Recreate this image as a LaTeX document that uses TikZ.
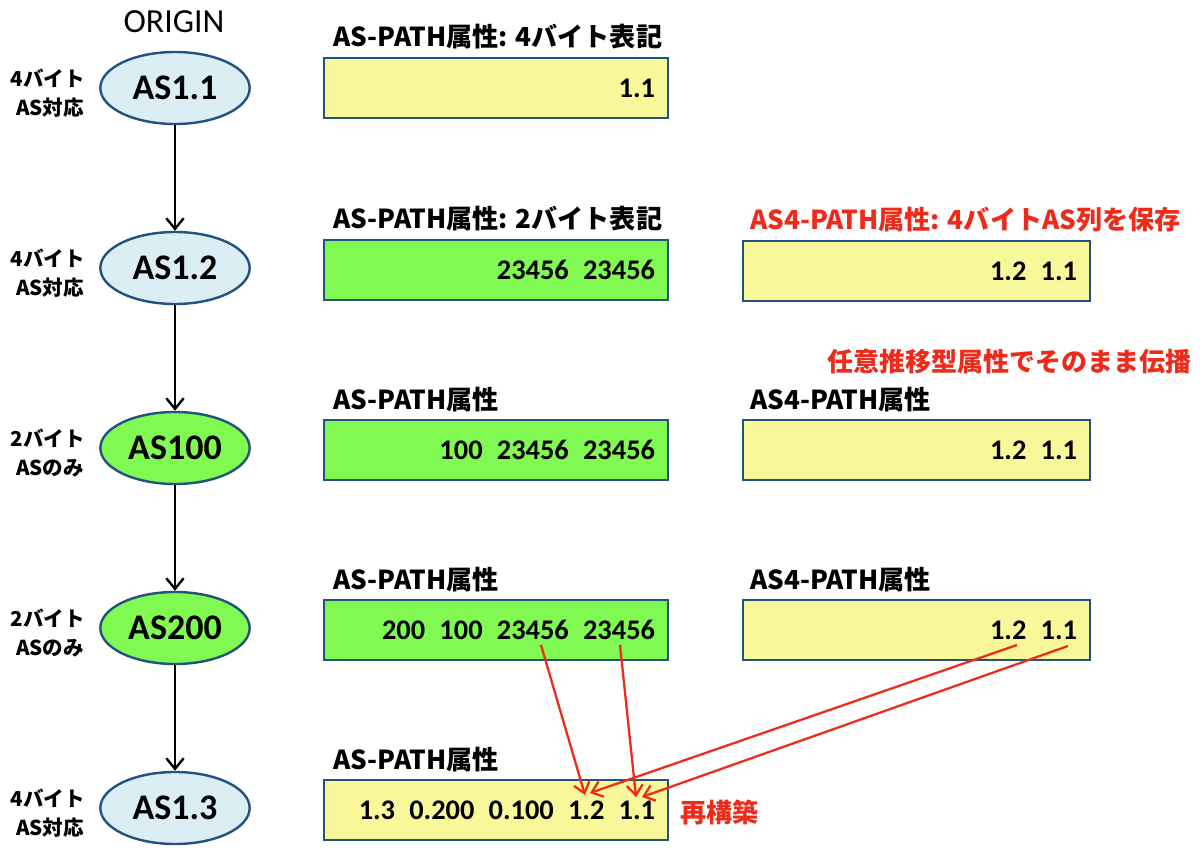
\documentclass[tikz,border=0pt]{standalone}
\usepackage{fontspec}
\setmainfont{Carlito}
\newfontfamily\jp{Noto Sans CJK JP}
\usetikzlibrary{arrows.meta,shapes.geometric}
\definecolor{ellblue}{RGB}{218,238,244}
\definecolor{bord}{RGB}{36,82,127}
\definecolor{grn}{RGB}{128,250,82}
\definecolor{ylw}{RGB}{248,248,155}
\definecolor{rd}{RGB}{238,42,26}
\newcommand{\gp}{\hspace{0.5em}}
\tikzset{
  asnode/.style={ellipse, draw=bord, line width=1.8pt, minimum width=112pt, minimum height=54pt, inner sep=0pt, font=\fontsize{27}{30}\selectfont\bfseries},
  pathbox/.style={rectangle, draw=bord, line width=1.7pt, minimum height=45pt, inner xsep=9.75pt, inner ysep=0pt, align=right, font=\fontsize{21.3}{24}\selectfont\bfseries},
  lbox/.style={pathbox, text width=238.5pt},
  rbox/.style={pathbox, text width=240.8pt},
  ttl/.style={anchor=west, inner sep=0pt, font=\jp\fontsize{19.6}{22}\selectfont\bfseries},
  side/.style={inner sep=0pt, font=\jp\fontsize{15.4}{18}\selectfont\bfseries},
  flow/.style={line width=1.8pt, -{Straight Barb[length=8pt,width=13pt,line width=1.8pt]}},
  rflow/.style={rd, line width=1.7pt, -{Straight Barb[length=7.5pt,width=12pt,line width=1.7pt]}}
}
\begin{document}
\begin{tikzpicture}[x=0.75pt,y=-0.75pt]
\useasboundingbox[fill=white] (0,0) rectangle (1200,852);
% origin
\node[inner sep=0pt, font=\fontsize{25.3}{28}\selectfont] (origin) at (174,22) {ORIGIN};
% AS nodes
\node[asnode, fill=ellblue] (as11) at (175,88) {AS1.1};
\node[asnode, fill=ellblue] (as12) at (175,268) {AS1.2};
\node[asnode, fill=grn] (as100) at (175,448) {AS100};
\node[asnode, fill=grn] (as200) at (175,628) {AS200};
\node[asnode, fill=ellblue] (as13) at (175,808) {AS1.3};
\draw[flow] (as11) -- (as12);
\draw[flow] (as12) -- (as100);
\draw[flow] (as100) -- (as200);
\draw[flow] (as200) -- (as13);
% side labels
\node[side] (s1a) at (48,78) {4バイト};
\node[side] (s1b) at (50,108) {AS対応};
\node[side] (s2a) at (48,258) {4バイト};
\node[side] (s2b) at (50,288) {AS対応};
\node[side] (s3a) at (48,438) {2バイト};
\node[side] (s3b) at (50,468) {ASのみ};
\node[side] (s4a) at (48,618) {2バイト};
\node[side] (s4b) at (50,648) {ASのみ};
\node[side] (s5a) at (48,798) {4バイト};
\node[side] (s5b) at (50,828) {AS対応};
% left boxes
\node[lbox, fill=ylw] (b1) at (496,88) {1.1};
\node[lbox, fill=grn] (b2) at (496,270) {23456\gp23456};
\node[lbox, fill=grn] (b3) at (496,450) {100\gp23456\gp23456};
\node[lbox, fill=grn] (b4) at (496,630) {200\gp100\gp23456\gp23456};
\node[lbox, fill=ylw] (b5) at (496,810) {1.3\gp0.200\gp0.100\gp1.2\gp1.1};
% right boxes
\node[rbox, fill=ylw] (r2) at (916.5,271) {1.2\gp1.1};
\node[rbox, fill=ylw] (r3) at (916.5,450) {1.2\gp1.1};
\node[rbox, fill=ylw] (r4) at (916.5,630) {1.2\gp1.1};
% titles
\node[ttl] (t1) at (333,37) {AS-PATH属性: 4バイト表記};
\node[ttl] (t2) at (333,219) {AS-PATH属性: 2バイト表記};
\node[ttl] (t3) at (333,400) {AS-PATH属性};
\node[ttl] (t4) at (333,580) {AS-PATH属性};
\node[ttl] (t5) at (333,760) {AS-PATH属性};
\node[ttl, text=rd] (rt2) at (750,220) {AS4-PATH属性: 4バイトAS列を保存};
\node[ttl] (rt3) at (750,400) {AS4-PATH属性};
\node[ttl] (rt4) at (750,580) {AS4-PATH属性};
\node[ttl, anchor=east, text=rd, font=\jp\fontsize{19.5}{22}\selectfont\bfseries] (note) at (1192,362) {任意推移型属性でそのまま伝播};
\node[ttl, text=rd] (rebuild) at (680,812) {再構築};
% reconstruction arrows
\coordinate (a1s) at (541,645);
\coordinate (a1e) at (585,795);
\coordinate (a2s) at (620,645);
\coordinate (a2e) at (636,797);
\coordinate (a3s) at (1017,645);
\coordinate (a3e) at (590,793);
\coordinate (a4s) at (1068,646);
\coordinate (a4e) at (642,797);
\draw[rflow] (a1s) -- (a1e);
\draw[rflow] (a2s) -- (a2e);
\draw[rflow] (a3s) -- (a3e);
\draw[rflow] (a4s) -- (a4e);
\end{tikzpicture}
\end{document}
